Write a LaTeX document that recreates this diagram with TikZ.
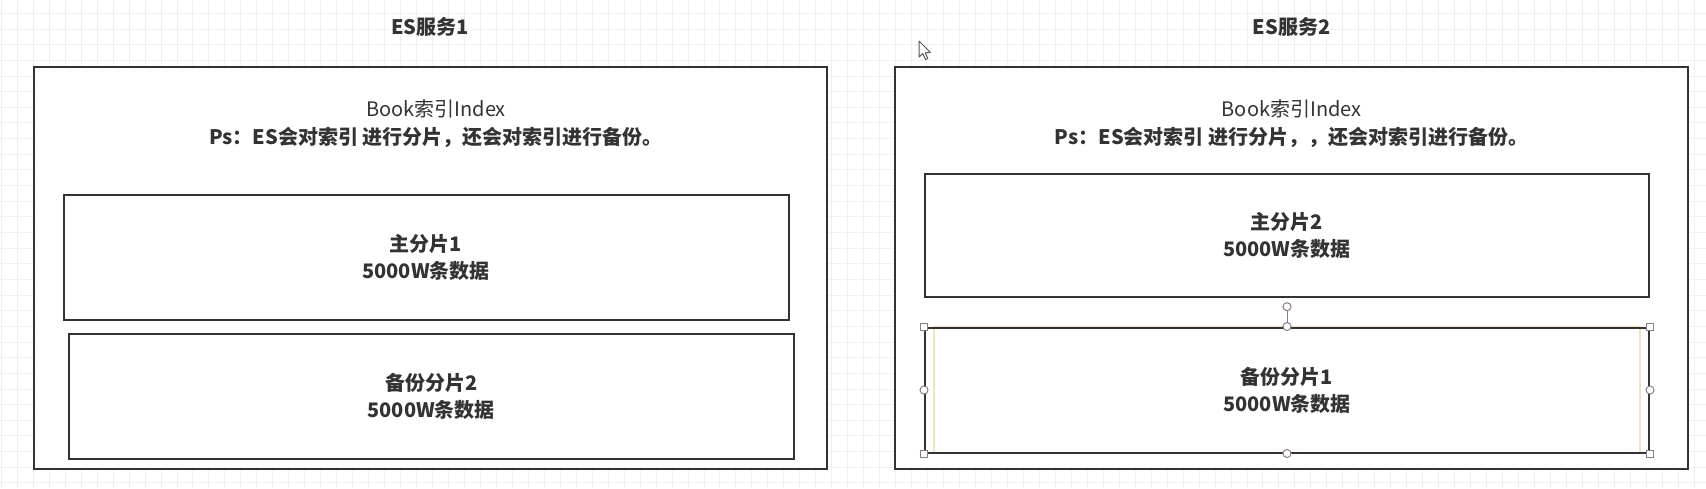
\documentclass[tikz,border=0pt]{standalone}
\usepackage{fontspec}
\setmainfont{Noto Sans CJK SC}
\definecolor{boxline}{HTML}{333333}
\definecolor{textgray}{HTML}{333333}
\definecolor{gridgray}{HTML}{F0F0F0}
\definecolor{handlegray}{HTML}{8B7B8B}
\definecolor{selyellow}{HTML}{F3E2C2}
\begin{document}
\begin{tikzpicture}[x=0.5pt, y=-0.5pt,
    every node/.style={inner sep=0pt, text=textgray, font=\fontsize{10}{14}\selectfont},
    box/.style={draw=boxline, line width=1pt, fill=white},
    label/.style={align=center, font=\fontsize{10}{13.5}\selectfont\bfseries},
    gridline/.style={draw=gridgray, line width=0.5pt},
    handlesq/.style={rectangle, draw=handlegray, fill=white, line width=0.5pt, minimum size=3.5pt},
    handlec/.style={circle, draw=handlegray, fill=white, line width=0.5pt, minimum size=4pt}]
        \useasboundingbox[fill=white] (0,0) rectangle (1706,488);

        % Background grid
        \foreach \i in {-1,...,106}
            \draw[gridline] ({17.3+15.97*\i},0) -- ({17.3+15.97*\i},488);
        \foreach \j in {-2,...,28}
            \draw[gridline] (0,{44.7+15.65*\j}) -- (1706,{44.7+15.65*\j});

        % Services
        \node[label] (t1) at (430,27) {ES服务1};
        \node[label] (t2) at (1291.7,27) {ES服务2};
        \node[box, minimum width=396.5pt, minimum height=201.25pt] (es1) at (430.5,267.75) {};
        \node[box, minimum width=396.5pt, minimum height=201pt] (es2) at (1291.5,267.5) {};

        % Index text
        \node[align=center] (idx1) at (436,124) {Book索引Index\\\textbf{Ps：ES会对索引 进行分片，还会对索引进行备份。}};
        \node[align=center] (idx2) at (1291.7,124) {Book索引Index\\\textbf{Ps：ES会对索引 进行分片，，还会对索引进行备份。}};

        % Shards
        \node[box, label, minimum width=362.5pt, minimum height=62.25pt] (p1) at (426,257.25) {主分片1\\5000W条数据};
        \node[box, label, minimum width=362.25pt, minimum height=62.25pt] (r2) at (431.25,396.25) {备份分片2\\5000W条数据};
        \node[box, label, minimum width=362.25pt, minimum height=61.75pt] (p2) at (1286.75,235.25) {主分片2\\5000W条数据};
        \draw[selyellow, line width=0.75pt] (934,326.5) rectangle (1640,453.5);
        \node[draw=boxline, line width=1pt, label, minimum width=362pt, minimum height=62.5pt] (r1) at (1287,390) {备份分片1\\5000W条数据};

        % Selection handles
        \node[handlec] (rot) at (1287,306.7) {};
        \draw[handlegray, line width=0.5pt] (rot) -- (r1.north);
        \foreach \a in {north west, north east, south west, south east}
            \node[handlesq] at (r1.\a) {};
        \foreach \a in {north, south, east, west}
            \node[handlec] at (r1.\a) {};

        % Mouse pointer
        \draw[fill=white, draw=black!65, line width=0.5pt, line join=round] (919,41) -- ++(0,16) -- ++(3.8,-3.5) -- ++(2.7,6) -- ++(2.3,-1) -- ++(-2.6,-5.7) -- ++(5.1,-0.5) -- cycle;
    \end{tikzpicture}
\end{document}
